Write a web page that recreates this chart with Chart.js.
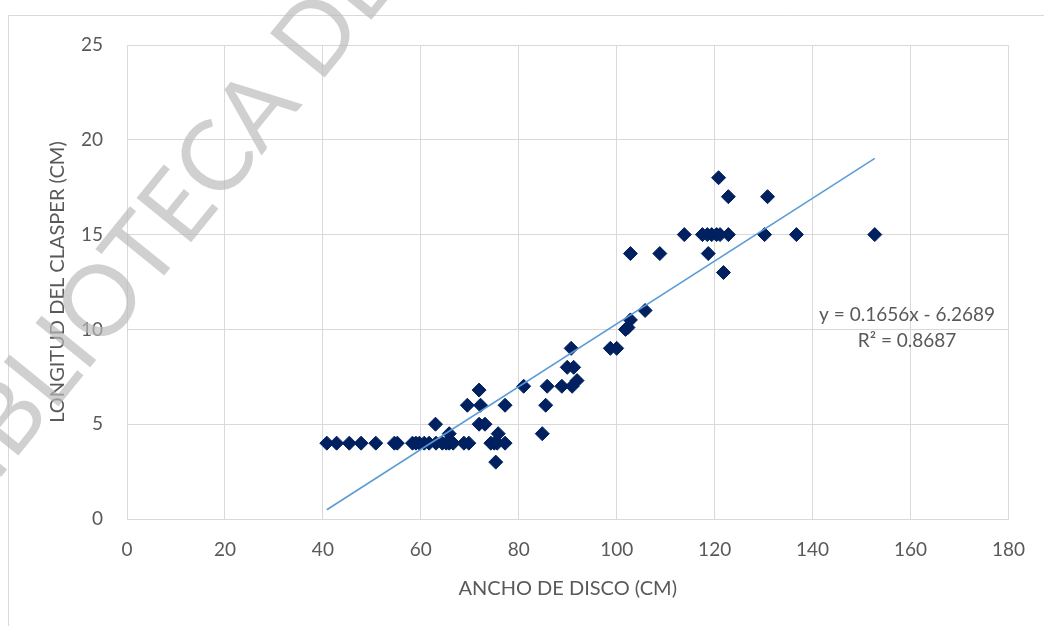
<!DOCTYPE html>
<html>
<head>
<meta charset="utf-8">
<script src="https://cdn.jsdelivr.net/npm/chart.js@4/dist/chart.umd.min.js"></script>
<style>
  html, body { margin: 0; padding: 0; background: #ffffff; }
  #wrap { width: 1044px; height: 626px; position: relative; }
</style>
</head>
<body>
<div id="wrap"><canvas id="chart" width="1044" height="626"></canvas></div>
<script>
// Ancho de disco (cm) de cada ejemplar
const anchoDisco = [
  40.8, 42.8, 45.4, 47.8, 50.8, 54.6, 55.2, 58.3, 59.0, 59.7,
  60.7, 61.7, 63.1, 64.4, 65.2, 65.8, 66.6, 68.8, 69.8, 74.3,
  75.0, 75.6, 77.2,
  63.0, 65.8, 75.8, 75.3, 71.9, 69.5, 72.2, 77.2, 71.9, 73.1,
  81.0, 84.8, 85.5, 85.8, 88.8, 90.9, 91.9, 89.9, 91.2, 90.7,
  98.7, 100.0, 101.8, 102.3, 102.8, 105.8, 102.8, 108.8, 113.8, 117.5,
  118.5, 119.4, 120.4, 121.1, 122.8, 118.7, 120.8, 122.8, 121.8, 130.2,
  130.8, 136.7, 152.7
];
// Longitud del clasper (cm) de cada ejemplar
const longitudClasper = [
  4, 4, 4, 4, 4, 4, 4, 4, 4, 4,
  4, 4, 4, 4, 4, 4, 4, 4, 4, 4,
  4, 4, 4,
  5, 4.5, 4.5, 3, 6.8, 6, 6, 6, 5, 5,
  7, 4.5, 6, 7, 7, 7, 7.3, 8, 8, 9,
  9, 9, 10, 10.1, 10.5, 11, 14, 14, 15, 15,
  15, 15, 15, 15, 15, 14, 18, 17, 13, 15,
  17, 15, 15
];
// Línea de tendencia lineal
const pendiente = 0.1656;
const intercepto = -6.2689;
const r2 = 0.8687;
// Ejes
const xTicks = [0, 20, 40, 60, 80, 100, 120, 140, 160, 180];
const yTicks = [0, 5, 10, 15, 20, 25];
const tituloX = 'ANCHO DE DISCO (CM)';
const tituloY = 'LONGITUD DEL CLASPER (CM)';
const marcaAgua = 'BIBLIOTECA DE';

const puntos = anchoDisco.map((x, i) => ({ x: x, y: longitudClasper[i] }));
const xMin = Math.min(...anchoDisco);
const xMax = Math.max(...anchoDisco);
const tendencia = [
  { x: xMin, y: pendiente * xMin + intercepto },
  { x: xMax, y: pendiente * xMax + intercepto }
];

const FONT = 'Lato, "Open Sans", "Liberation Sans", sans-serif';
const GRIS_TEXTO = '#595959';
const GRIS_REJILLA = '#d9d9d9';

const fmt = v => v.toFixed(4);
const sign = intercepto < 0 ? ' - ' : ' + ';
const ecuacion = 'y = ' + fmt(pendiente) + 'x' + sign + fmt(Math.abs(intercepto));
const textoR2 = 'R\u00B2 = ' + fmt(r2);

// Marco del gráfico, marca de agua y etiqueta de la tendencia
const decoracion = {
  id: 'decoracion',
  beforeDraw(chart) {
    const ctx = chart.ctx;
    ctx.save();
    ctx.fillStyle = '#ffffff';
    ctx.fillRect(0, 0, chart.width, chart.height);
    ctx.strokeStyle = GRIS_REJILLA;
    ctx.lineWidth = 1;
    ctx.beginPath();
    ctx.moveTo(8.5, chart.height + 2);
    ctx.lineTo(8.5, 15.5);
    ctx.lineTo(chart.width + 2, 15.5);
    ctx.stroke();
    ctx.restore();
  },
  afterDraw(chart) {
    const ctx = chart.ctx;
    const xs = chart.scales.x, ys = chart.scales.y;
    ctx.save();
    ctx.fillStyle = GRIS_TEXTO;
    ctx.font = '19px ' + FONT;
    ctx.textAlign = 'center';
    ctx.textBaseline = 'middle';
    const cx = xs.getPixelForValue(159.3);
    ctx.fillText(ecuacion, cx, ys.getPixelForValue(10.75));
    ctx.fillText(textoR2, cx, ys.getPixelForValue(9.4));
    ctx.restore();

    ctx.save();
    ctx.translate(154, 238);
    ctx.rotate(-51 * Math.PI / 180);
    ctx.fillStyle = 'rgba(185,185,185,0.68)';
    ctx.font = '400 98px ' + FONT;
    ctx.textAlign = 'center';
    ctx.textBaseline = 'middle';
    ctx.fillText(marcaAgua, 0, 0);
    ctx.restore();
  }
};

new Chart(document.getElementById('chart'), {
  type: 'scatter',
  data: {
    datasets: [
      {
        label: 'Tendencia',
        data: tendencia,
        showLine: true,
        borderColor: '#5B9BD5',
        borderWidth: 1.5,
        pointRadius: 0,
        fill: false,
        order: 0
      },
      {
        label: 'Longitud del clasper',
        data: puntos,
        pointStyle: 'rectRot',
        pointRadius: 7,
        pointBorderWidth: 1,
        backgroundColor: '#002060',
        borderColor: '#002060',
        order: 1
      }
    ]
  },
  options: {
    responsive: false,
    animation: false,
    layout: { padding: { top: 45, right: 33, bottom: 0, left: 0 } },
    plugins: { legend: { display: false }, tooltip: { enabled: false } },
    scales: {
      x: {
        type: 'linear',
        min: xTicks[0],
        max: xTicks[xTicks.length - 1],
        afterBuildTicks: s => { s.ticks = xTicks.map(v => ({ value: v })); },
        afterFit: s => { s.height = 107; },
        ticks: { color: GRIS_TEXTO, font: { family: FONT, size: 19 }, padding: 19, maxRotation: 0 },
        grid: { color: GRIS_REJILLA, drawTicks: false, lineWidth: 1 },
        border: { color: GRIS_REJILLA },
        title: {
          display: true, text: tituloX, color: GRIS_TEXTO,
          font: { family: FONT, size: 20 }, padding: { top: 0, bottom: 25 }
        }
      },
      y: {
        type: 'linear',
        min: yTicks[0],
        max: yTicks[yTicks.length - 1],
        afterBuildTicks: s => { s.ticks = yTicks.map(v => ({ value: v })); },
        afterFit: s => { s.width = 127; },
        ticks: { color: GRIS_TEXTO, font: { family: FONT, size: 19 }, padding: 24 },
        grid: { color: GRIS_REJILLA, drawTicks: false, lineWidth: 1 },
        border: { color: GRIS_REJILLA },
        title: {
          display: true, text: tituloY, color: GRIS_TEXTO,
          font: { family: FONT, size: 20 }, padding: { top: 46, bottom: 0 }
        }
      }
    }
  },
  plugins: [decoracion]
});
</script>
</body>
</html>
